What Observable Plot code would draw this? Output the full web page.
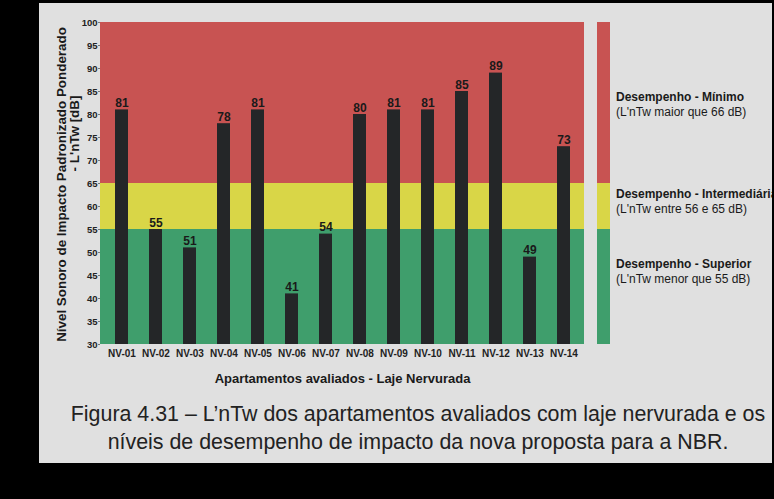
<!DOCTYPE html>
<html>
<head>
<meta charset="utf-8">
<script src="https://cdn.jsdelivr.net/npm/d3@7"></script>
<script src="https://cdn.jsdelivr.net/npm/@observablehq/plot@0.6"></script>
<style>
  html, body { margin: 0; padding: 0; }
  body { width: 774px; height: 499px; background: #000; position: relative; overflow: hidden; font-family: "Liberation Sans", Arial, sans-serif; }
  #panel { position: absolute; left: 39px; top: 3px; width: 733px; height: 460px; background: #e0e0e0; overflow: hidden; }
  #main { position: absolute; left: 0; top: 0; }
  #legendbar { position: absolute; left: 558px; top: 0; }
  .leg { position: absolute; left: 577px; font-size: 12px; line-height: 15px; color: #1a1a1a; white-space: nowrap; }
  .leg b { font-size: 12px; }
  #caption { position: absolute; left: 0; width: 758px; top: 397px; text-align: center; font-size: 21.4px; line-height: 28px; color: #222; white-space: nowrap; }
</style>
</head>
<body>
<div id="panel">
  <div id="main"></div>
  <div id="legendbar"></div>
  <div id="legendtext"></div>
  <div id="caption"></div>
</div>
<script>
// ---- data ----
const apartamentos = ["NV-01","NV-02","NV-03","NV-04","NV-05","NV-06","NV-07","NV-08","NV-09","NV-10","NV-11","NV-12","NV-13","NV-14"];
const lntw = [81, 55, 51, 78, 81, 41, 54, 80, 81, 81, 85, 89, 49, 73];
const yTicks = [30, 35, 40, 45, 50, 55, 60, 65, 70, 75, 80, 85, 90, 95, 100];
const faixaInicio = [30, 55, 65];
const faixaFim = [55, 65, 100];
const faixaCores = ["#3f9e6c", "#d9d647", "#c85352"];
const legendaTitulos = ["Desempenho - Mínimo", "Desempenho - Intermediária", "Desempenho - Superior"];
const legendaDescricoes = ["(L'nTw maior que 66 dB)", "(L'nTw entre 56 e 65 dB)", "(L'nTw menor que 55 dB)"];
const tituloY = ["Nível Sonoro de Impacto Padronizado Ponderado", "- L'nTw [dB]"];
const tituloX = "Apartamentos avaliados - Laje Nervurada";
const legenda = ["Figura 4.31 – L’nTw dos apartamentos avaliados com laje nervurada e os", "níveis de desempenho de impacto da nova proposta para a NBR."];

const rows = apartamentos.map((a, i) => ({apto: a, valor: lntw[i]}));
const faixas = faixaInicio.map((v, i) => ({y1: v, y2: faixaFim[i], cor: faixaCores[i]}));

const font = "Liberation Sans, Arial, sans-serif";

const main = Plot.plot({
  width: 560,
  height: 390,
  marginLeft: 61,
  marginRight: 15,
  marginTop: 19,
  marginBottom: 49,
  style: {fontFamily: font, background: "transparent", overflow: "visible"},
  x: {domain: apartamentos, paddingInner: 0.62, paddingOuter: 0.31, label: null},
  y: {domain: [30, 100], label: null},
  marks: [
    Plot.rectY(faixas, {y1: "y1", y2: "y2", fill: "cor"}),
    Plot.barY(rows, {x: "apto", y1: 30, y2: "valor", fill: "#242628"}),
    Plot.text(rows, {x: "apto", y: "valor", text: d => String(d.valor), lineAnchor: "bottom", dy: -3, fontSize: 12, fontWeight: "bold", fill: "#1a1a1a"}),
    Plot.axisY({ticks: yTicks, tickSize: 2, tickPadding: 1, fontSize: 9.5, fontWeight: "bold", stroke: "#777", fill: "#222", label: null}),
    Plot.axisX({tickSize: 0, tickPadding: 5, fontSize: 10, fontWeight: "bold", fill: "#222", label: null}),
    Plot.text([tituloX], {frameAnchor: "bottom", dy: 38, fontSize: 13, fontWeight: "bold", fill: "#1a1a1a"}),
    Plot.text([tituloY[0]], {frameAnchor: "left", textAnchor: "middle", rotate: -90, dx: -39, dy: 1, fontSize: 13.4, fontWeight: "bold", fill: "#1a1a1a"}),
    Plot.text([tituloY[1]], {frameAnchor: "left", textAnchor: "middle", rotate: -90, dx: -26, dy: -50, fontSize: 13.4, fontWeight: "bold", fill: "#1a1a1a"})
  ]
});
document.getElementById("main").appendChild(main);

const bar = Plot.plot({
  width: 13,
  height: 390,
  marginLeft: 0,
  marginRight: 0,
  marginTop: 19,
  marginBottom: 49,
  style: {background: "transparent"},
  y: {domain: [30, 100], axis: null},
  marks: [Plot.rectY(faixas, {y1: "y1", y2: "y2", fill: "cor"})]
});
document.getElementById("legendbar").appendChild(bar);

const tops = [87, 184, 254];
const lt = document.getElementById("legendtext");
legendaTitulos.forEach((t, i) => {
  const d = document.createElement("div");
  d.className = "leg";
  d.style.top = tops[i] + "px";
  const b = document.createElement("b");
  b.textContent = t;
  d.appendChild(b);
  d.appendChild(document.createElement("br"));
  d.appendChild(document.createTextNode(legendaDescricoes[i]));
  lt.appendChild(d);
});

const cap = document.getElementById("caption");
legenda.forEach((l, i) => {
  if (i) cap.appendChild(document.createElement("br"));
  cap.appendChild(document.createTextNode(l));
});
</script>
</body>
</html>
